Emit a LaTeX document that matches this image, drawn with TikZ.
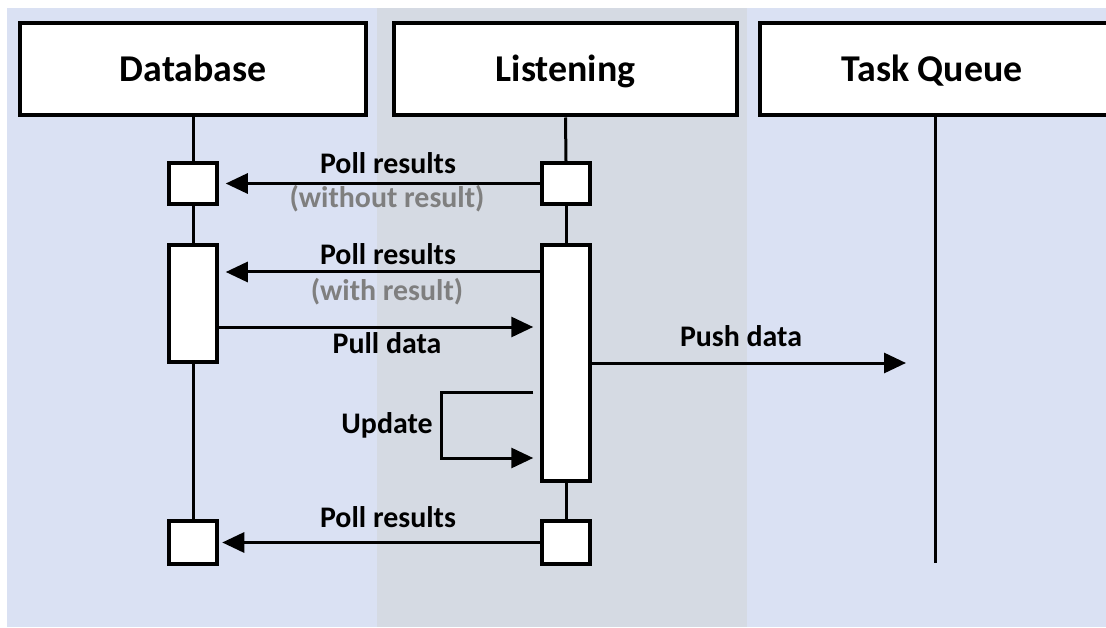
\documentclass[tikz,border=0pt]{standalone}
\usepackage{fontspec}
\setmainfont{Carlito}
\usetikzlibrary{arrows.meta,calc}
\definecolor{lanebg}{HTML}{DAE1F3}
\definecolor{laneband}{HTML}{D5DAE3}
\definecolor{notegray}{HTML}{7F7F7F}
\begin{document}
\begin{tikzpicture}[x=1bp,y=-1bp,
  header/.style={draw=black, fill=white, line width=4bp, minimum height=92.5bp,
    inner sep=0pt},
  headtext/.style={anchor=base, inner sep=0pt, font=\fontsize{38}{38}\selectfont\bfseries},
  actbox/.style={draw=black, fill=white, line width=3.5bp, minimum width=48bp,
    inner sep=0pt},
  lifeline/.style={draw=black, line width=3bp},
  msg/.style={draw=black, line width=3bp,
    -{Triangle[length=22bp,width=20bp]}},
  lbl/.style={anchor=base, inner sep=0pt, font=\fontsize{30}{30}\selectfont\bfseries},
  note/.style={lbl, text=notegray}]
\useasboundingbox (0,0) rectangle (1106,628);

% swim lanes
\fill[lanebg] (7,8) rectangle (1106,627);
\fill[laneband] (377,8) rectangle (747,627);

% participants
\node[header, minimum width=345.5bp] (db) at (193,69.25) {};
\node[header, minimum width=343bp] (ls) at (565.5,69.25) {};
\node[header, minimum width=351bp] (tq) at (935,69.25) {};
\node[headtext] (dbt) at (193.3,81.3) {Database};
\node[headtext] (lst) at (565.5,81.3) {Listening};
\node[headtext] (tqt) at (932,81.3) {Task Queue};

% activation boxes
\node[actbox, minimum height=41bp]  (d1) at (193,183.5) {};
\node[actbox, minimum height=117bp] (d2) at (193,303.5) {};
\node[actbox, minimum height=43bp]  (d3) at (193,542.5) {};
\node[actbox, minimum height=41bp]  (l1) at (566,183.5) {};
\node[actbox, minimum height=236bp] (l2) at (566,363) {};
\node[actbox, minimum height=43bp]  (l3) at (566,542.5) {};
\coordinate (tqend) at (935,563);

% lifelines
\draw[lifeline] (db.south) -- (d1.north);
\draw[lifeline] (d1.south) -- (d2.north);
\draw[lifeline] (d2.south) -- (d3.north);
\draw[lifeline] (ls.south) -- (l1.north);
\draw[lifeline] (l1.south) -- (l2.north);
\draw[lifeline] (l2.south) -- (l3.north);
\draw[lifeline] (tq.south) -- (tqend);

% message levels
\coordinate (m2) at (0,272);
\coordinate (m3) at (0,327);
\coordinate (m4) at (0,363);
\coordinate (u1) at (441,392);
\coordinate (u2) at (441,458);

% messages
\draw[msg, shorten >=7bp] (l1.west) -- (d1.east);
\draw[msg, shorten >=7bp] (l2.west |- m2) -- (d2.east |- m2);
\draw[msg, shorten >=7bp] (d2.east |- m3) -- (l2.west |- m3);
\draw[msg, shorten >=29bp] (l2.east |- m4) -- (tqend |- m4);
\draw[msg, shorten >=7bp] ($(l2.west |- u1)+(-7,0)$) -- (u1) -- (u2) -- (l2.west |- u2);
\draw[msg, shorten >=3.5bp] (l3.west) -- (d3.east);

% labels
\node[lbl]  (t1) at (388,173.3) {Poll results};
\node[note] (t2) at (387,208) {(without result)};
\node[lbl]  (t3) at (388,264.3) {Poll results};
\node[note] (t4) at (387,301) {(with result)};
\node[lbl]  (t5) at (387,353) {Pull data};
\node[lbl]  (t6) at (387,433) {Update};
\node[lbl]  (t7) at (741,346.7) {Push data};
\node[lbl]  (t8) at (388,527.7) {Poll results};
\end{tikzpicture}
\end{document}
